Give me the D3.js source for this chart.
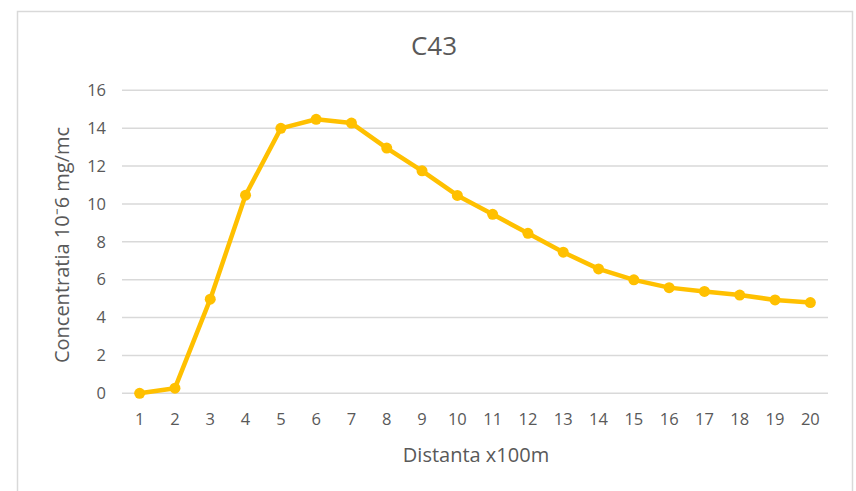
<!DOCTYPE html>
<html><head><meta charset="utf-8">
<script src="https://cdn.jsdelivr.net/npm/d3@7"></script>
<style>body{margin:0;background:#fff;}svg{display:block;}</style>
</head><body><svg id="c" width="856" height="491"></svg>
<script>
const categories = ["1","2","3","4","5","6","7","8","9","10","11","12","13","14","15","16","17","18","19","20"];
const values = [0, 0.27, 4.97, 10.46, 13.99, 14.47, 14.27, 12.95, 11.75, 10.45, 9.45, 8.45, 7.45, 6.57, 5.99, 5.58, 5.38, 5.19, 4.93, 4.79];
const yTicks = [0,2,4,6,8,10,12,14,16];
const title = "C43";
const xTitle = "Distanta x100m";
const yTitle = "Concentratia 10\u207B6 mg/mc";

const svg = d3.select("#c");
const font = "'Open Sans', sans-serif";
const gray = "#595959";
svg.append("rect").attr("x",17.5).attr("y",11.5).attr("width",835).attr("height",500)
  .attr("fill","#fff").attr("stroke","#d9d9d9").attr("stroke-width",1.5);

const x = d3.scaleBand().domain(categories).range([122, 828]);
const y = d3.scaleLinear().domain([0,16]).range([393.3, 90.3]);

const grid = svg.append("g");
grid.selectAll("line").data(yTicks).join("line")
  .attr("x1",122).attr("x2",828).attr("y1",d=>y(d)).attr("y2",d=>y(d))
  .attr("stroke","#d9d9d9").attr("stroke-width",1.6);

const yAxis = svg.append("g").attr("transform","translate(122,0)")
  .call(d3.axisLeft(y).tickValues(yTicks).tickSize(0).tickPadding(16));
yAxis.select(".domain").remove();
yAxis.selectAll("text").attr("font-family",font).attr("font-size",16.5).attr("fill",gray);

const xAxis = svg.append("g").attr("transform","translate(0,393.3)")
  .call(d3.axisBottom(x).tickSize(0).tickPadding(20));
xAxis.select(".domain").remove();
xAxis.selectAll("text").attr("font-family",font).attr("font-size",16.5).attr("fill",gray);

const line = d3.line().x((d,i)=>x(categories[i])+x.bandwidth()/2).y(d=>y(d));
svg.append("path").datum(values).attr("d",line).attr("fill","none")
  .attr("stroke","#FFC000").attr("stroke-width",4.5).attr("stroke-linejoin","round");
svg.selectAll("circle.m").data(values).join("circle").attr("class","m")
  .attr("cx",(d,i)=>x(categories[i])+x.bandwidth()/2).attr("cy",d=>y(d)).attr("r",5.5)
  .attr("fill","#FFC000");

svg.append("text").attr("x",434).attr("y",55).attr("text-anchor","middle")
  .attr("font-family",font).attr("font-size",26).attr("fill",gray).text(title);
svg.append("text").attr("x",476).attr("y",462).attr("text-anchor","middle")
  .attr("font-family",font).attr("font-size",20).attr("fill",gray).text(xTitle);
svg.append("text").attr("transform","translate(69,245) rotate(-90)").attr("text-anchor","middle")
  .attr("font-family",font).attr("font-size",20).attr("fill",gray).text(yTitle);
</script></body></html>
